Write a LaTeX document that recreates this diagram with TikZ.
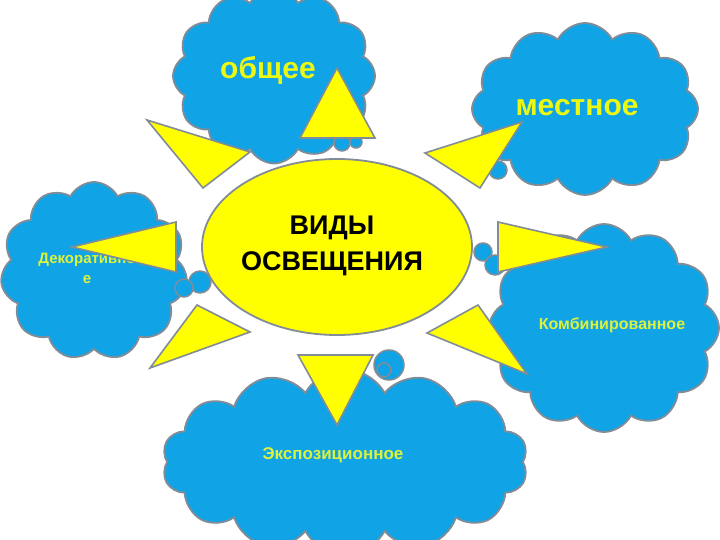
\documentclass[tikz,border=0pt]{standalone}
\usepackage{fontspec}
\setmainfont{Liberation Sans}
\usetikzlibrary{shapes.symbols,shapes.geometric}
\definecolor{cloudblue}{RGB}{16,163,230}
\definecolor{edgegray}{RGB}{130,140,150}
\definecolor{sunyellow}{RGB}{255,255,0}
\definecolor{labyellow}{RGB}{235,248,20}
\definecolor{smallyellow}{RGB}{220,242,60}
\tikzset{
  cloudbox/.style={cloud, cloud puffs=#1, cloud puff arc=125, draw=edgegray, fill=cloudblue, line width=1.8pt, inner sep=0pt, cloud ignores aspect},
  bubble/.style={circle, draw=edgegray, fill=cloudblue, line width=1.5pt, inner sep=0pt, minimum size=#1},
  ray/.style={draw=edgegray, fill=sunyellow, line width=1.6pt, line join=miter},
  biglabel/.style={text=labyellow, font=\bfseries\fontsize{30}{34}\selectfont, inner sep=0pt},
  smalllabel/.style={text=smallyellow, font=\bfseries\fontsize{#1}{20}\selectfont, inner sep=0pt, align=center}
}
\begin{document}
\begin{tikzpicture}[x=1pt,y=-1pt]
\useasboundingbox (0,0) rectangle (720,540);
\clip (0,0) rectangle (720,540);
% clouds
\node[cloudbox=12, minimum width=202pt, minimum height=175pt] (cgen) at (274,76) {};
\node[cloudbox=12, minimum width=226pt, minimum height=172pt] (cloc) at (585,109) {};
\node[cloudbox=11, minimum width=187pt, minimum height=178pt] (cdec) at (94,271) {};
\node[cloudbox=12, minimum width=230pt, minimum height=208pt] (ccom) at (604,328) {};
\node[cloudbox=14, minimum width=366pt, minimum height=186pt] (cexp) at (345,462) {};
% tail bubbles
\node[bubble=16pt] (bg1) at (342,143) {};
\node[bubble=12pt] (bg2) at (356,142) {};
\node[bubble=18pt] (bl1) at (498,170) {};
\node[bubble=22pt] (bd1) at (200,282) {};
\node[bubble=18pt] (bd2) at (184,288) {};
\node[bubble=18pt] (bc1) at (483,252) {};
\node[bubble=20pt] (bc2) at (495,265) {};
\node[bubble=30pt] (be1) at (389,365) {};
\node[bubble=14pt] (be2) at (384,370) {};
% labels in clouds
\node[biglabel] (lgen) at (268,70) {общее};
\node[biglabel] (lloc) at (577,108) {местное};
\node[smalllabel=15] (ldec) at (87,268) {Декоративно\\е};
\node[smalllabel=16] (lcom) at (612,325) {Комбинированное};
\node[smalllabel=17] (lexp) at (333,455) {Экспозиционное};
% sun
\node[ellipse, draw=edgegray, fill=sunyellow, line width=1.8pt, minimum width=270pt, minimum height=176pt, inner sep=0pt] (sun) at (337,247) {};
\node[font=\bfseries\fontsize{27}{36}\selectfont, align=center, inner sep=0pt] (title) at (332,246) {ВИДЫ\\ОСВЕЩЕНИЯ};
% rays
\path[ray] (337,68) -- (300,138) -- (375,138) -- cycle;
\path[ray] (147,120) -- (250,152) -- (203,188) -- cycle;
\path[ray] (522,122) -- (425,153) -- (480,188) -- cycle;
\path[ray] (72,247) -- (176,222) -- (176,272) -- cycle;
\path[ray] (607,247) -- (498,222) -- (498,272) -- cycle;
\path[ray] (150,368) -- (197,305) -- (250,332) -- cycle;
\path[ray] (527,374) -- (478,305) -- (427,333) -- cycle;
\path[ray] (337,425) -- (298,355) -- (373,355) -- cycle;
\end{tikzpicture}
\end{document}
